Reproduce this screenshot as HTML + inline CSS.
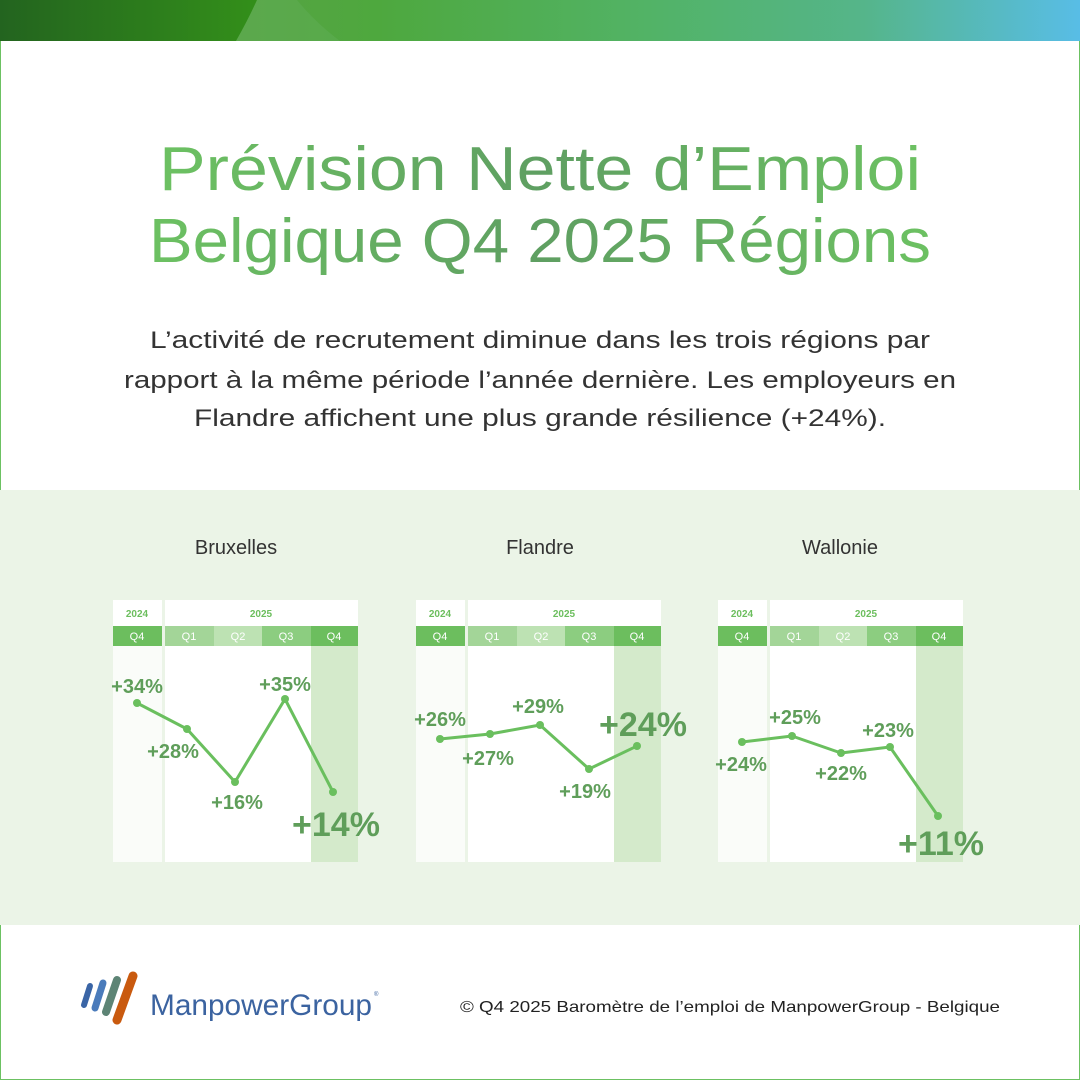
<!DOCTYPE html>
<html><head><meta charset="utf-8"><style>
body{margin:0;width:1080px;height:1080px;overflow:hidden;background:#fff;font-family:"Liberation Sans",sans-serif}
</style></head><body>
<svg width="1080" height="1080" viewBox="0 0 1080 1080" xmlns="http://www.w3.org/2000/svg" font-family="Liberation Sans, sans-serif">
<defs>
<linearGradient id="bn" x1="0" x2="1" y1="0" y2="0">
<stop offset="0.2" stop-color="#59a244"/><stop offset="0.35" stop-color="#4ea83e"/><stop offset="0.6" stop-color="#52b366"/><stop offset="0.8" stop-color="#55b58a"/><stop offset="1" stop-color="#58bde6"/></linearGradient>
<linearGradient id="dk" x1="0" x2="1" y1="0" y2="0">
<stop offset="0" stop-color="#23641f"/><stop offset="1" stop-color="#338f1a"/></linearGradient>
<linearGradient id="tt" x1="0" x2="1"><stop offset="0" stop-color="#6cc162"/><stop offset="0.5" stop-color="#5f9f62"/><stop offset="1" stop-color="#6cc162"/></linearGradient>
</defs>
<rect x="0" y="0" width="1080" height="1080" fill="#fff" stroke="#6cc162" stroke-width="2"/>
<rect x="0" y="0" width="1080" height="41" fill="url(#bn)"/>
<path d="M0 0 L257 0 Q248 20 236 41 L0 41Z" fill="url(#dk)"/>
<path d="M297 0 Q315 22 340 41 L236 41 Q248 20 257 0Z" fill="#5fae55" opacity="0.5"/>
<text x="540" y="190" text-anchor="middle" font-size="62" fill="url(#tt)" textLength="762" lengthAdjust="spacingAndGlyphs">Prévision Nette d’Emploi</text>
<text x="540" y="262" text-anchor="middle" font-size="62" fill="url(#tt)" textLength="782" lengthAdjust="spacingAndGlyphs">Belgique Q4 2025 Régions</text>
<g font-size="24" fill="#333" text-anchor="middle">
<text x="540" y="348" textLength="780" lengthAdjust="spacingAndGlyphs">L’activité de recrutement diminue dans les trois régions par</text>
<text x="540" y="388" textLength="832" lengthAdjust="spacingAndGlyphs">rapport à la même période l’année dernière. Les employeurs en</text>
<text x="540" y="426" textLength="692" lengthAdjust="spacingAndGlyphs">Flandre affichent une plus grande résilience (+24%).</text>
</g>
<rect x="0" y="490" width="1080" height="435" fill="#ebf4e7"/>
<g font-size="20" fill="#333" text-anchor="middle">
<text x="236" y="554">Bruxelles</text><text x="540" y="554">Flandre</text><text x="840" y="554">Wallonie</text>
</g>
<g id="c">
<rect x="113" y="600" width="49" height="262" fill="#fafcf9"/>
<rect x="113" y="600" width="49" height="26" fill="#fff"/>
<rect x="165" y="600" width="193" height="262" fill="#fff"/>
<rect x="311" y="646" width="47" height="216" fill="#d4eacb"/>
<rect x="113" y="626" width="49" height="20" fill="#6cbe5e"/>
<rect x="165" y="626" width="49" height="20" fill="#a3d598"/>
<rect x="214" y="626" width="48" height="20" fill="#bde2b3"/>
<rect x="262" y="626" width="49" height="20" fill="#8ccd80"/>
<rect x="311" y="626" width="47" height="20" fill="#6cbe5e"/>
<g font-size="10" font-weight="bold" fill="#6cbe5e" text-anchor="middle"><text x="137" y="617">2024</text><text x="261" y="617">2025</text></g>
<g font-size="11" fill="#fff" text-anchor="middle"><text x="137" y="640">Q4</text><text x="189" y="640">Q1</text><text x="238" y="640">Q2</text><text x="286" y="640">Q3</text><text x="334" y="640">Q4</text></g>
</g>
<use href="#c" x="303"/>
<use href="#c" x="605"/>
<g fill="none" stroke="#6abf5e" stroke-width="3" stroke-linejoin="round">
<polyline points="137,703 187,729 235,782 285,699 333,792"/>
<polyline points="440,739 490,734 540,725 589,769 637,746"/>
<polyline points="742,742 792,736 841,753 890,747 938,816"/>
</g>
<g fill="#6abf5e">
<circle cx="137" cy="703" r="4"/><circle cx="187" cy="729" r="4"/><circle cx="235" cy="782" r="4"/><circle cx="285" cy="699" r="4"/><circle cx="333" cy="792" r="4"/>
<circle cx="440" cy="739" r="4"/><circle cx="490" cy="734" r="4"/><circle cx="540" cy="725" r="4"/><circle cx="589" cy="769" r="4"/><circle cx="637" cy="746" r="4"/>
<circle cx="742" cy="742" r="4"/><circle cx="792" cy="736" r="4"/><circle cx="841" cy="753" r="4"/><circle cx="890" cy="747" r="4"/><circle cx="938" cy="816" r="4"/>
</g>
<g font-size="20" font-weight="bold" fill="#5f9e5a" text-anchor="middle">
<text x="137" y="693">+34%</text><text x="173" y="758">+28%</text><text x="237" y="809">+16%</text><text x="285" y="691">+35%</text>
<text x="440" y="726">+26%</text><text x="488" y="765">+27%</text><text x="538" y="713">+29%</text><text x="585" y="798">+19%</text>
<text x="741" y="771">+24%</text><text x="795" y="724">+25%</text><text x="841" y="780">+22%</text><text x="888" y="737">+23%</text>
</g>
<g font-size="34" font-weight="bold" fill="#5f9e5a" text-anchor="middle">
<text x="336" y="836">+14%</text><text x="643" y="736">+24%</text><text x="941" y="855">+11%</text>
</g>
<g stroke-linecap="round">
<line x1="84" y1="1005" x2="90" y2="986" stroke="#3a65a6" stroke-width="6"/>
<line x1="95" y1="1008" x2="103" y2="983" stroke="#4a7bbb" stroke-width="7"/>
<line x1="106" y1="1012" x2="117" y2="980" stroke="#5d8475" stroke-width="8"/>
<line x1="117" y1="1020" x2="133" y2="976" stroke="#c95a0f" stroke-width="9"/>
</g>
<text x="150" y="1015" font-size="30" fill="#3b63a0" textLength="222" lengthAdjust="spacingAndGlyphs">ManpowerGroup</text>
<text x="374" y="996" font-size="6" fill="#3b63a0">®</text>
<text x="730" y="1012" text-anchor="middle" font-size="16" fill="#222" textLength="540" lengthAdjust="spacingAndGlyphs">© Q4 2025 Baromètre de l’emploi de ManpowerGroup - Belgique</text>
</svg>
</body></html>
